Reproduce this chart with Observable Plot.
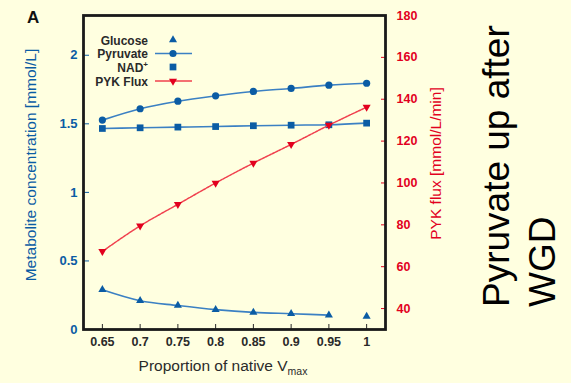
<!DOCTYPE html>
<html><head><meta charset="utf-8">
<script src="https://cdn.jsdelivr.net/npm/d3@7"></script>
<script src="https://cdn.jsdelivr.net/npm/@observablehq/plot@0.6"></script>
<style>
html,body{margin:0;padding:0;background:#ffffe0;}
#chart{width:571px;height:383px;position:relative;}
svg{display:block;}
</style></head><body><div id="chart"></div>
<script>
// ---- data ----
const proportion = [0.65, 0.7, 0.75, 0.8, 0.85, 0.9, 0.95, 1];
const glucose  = [0.29, 0.21, 0.175, 0.145, 0.125, 0.115, 0.105, 0.095];
const pyruvate = [1.527, 1.61, 1.665, 1.704, 1.736, 1.758, 1.782, 1.796];
const nad      = [1.466, 1.471, 1.476, 1.48, 1.486, 1.49, 1.493, 1.505];
const pykFlux  = [67.3, 79.5, 89.8, 100, 109.5, 118.4, 127.6, 136.2];
const xTicks = [0.65, 0.7, 0.75, 0.8, 0.85, 0.9, 0.95, 1];
const xTickLabels = ["0.65", "0.7", "0.75", "0.8", "0.85", "0.9", "0.95", "1"];
const leftTicks = [0, 0.5, 1, 1.5, 2];
const leftTickLabels = ["0", "0.5", "1", "1.5", "2"];
const rightTicks = [40, 60, 80, 100, 120, 140, 160, 180];
const seriesNames = ["Glucose", "Pyruvate", "NAD", "PYK Flux"];

const BLUE = "#0b5ca4", BLUE_LINE = "#3b80c3", RED = "#e2001e", RED_LINE = "#f0404e";
const FONT = "Liberation Sans, Arial, sans-serif";

// secondary axis mapping (flux -> left scale units)
const fluxToY = d3.scaleLinear([30, 180], [0, 2.29]);

const rows = proportion.map((p, i) => ({
  p, glucose: glucose[i], pyruvate: pyruvate[i], nad: nad[i], flux: fluxToY(pykFlux[i])
}));

const W = 571, H = 383, ML = 83, MR = 186, MT = 15, MB = 54;

const chart = Plot.plot({
  width: W, height: H,
  marginLeft: ML, marginRight: MR, marginTop: MT, marginBottom: MB,
  style: {background: "transparent", fontFamily: FONT, fontSize: "13px", overflow: "visible"},
  x: {domain: [0.625, 1.025]},
  y: {domain: [0, 2.29]},
  marks: [
    Plot.axisX(xTicks, {tickSize: -5, tickPadding: 13, tickFormat: d => xTickLabels[xTicks.indexOf(d)], color: "#2a2a2a", fontSize: 12.5, fontWeight: "bold", label: null}),
    Plot.axisY(leftTicks, {anchor: "left", tickSize: -6, tickPadding: 12, tickFormat: d => leftTickLabels[leftTicks.indexOf(d)], color: BLUE, fontSize: 13, fontWeight: "bold", label: null}),
    Plot.axisY(rightTicks.map(fluxToY), {anchor: "right", tickSize: -5, tickPadding: 16, tickFormat: d => String(Math.round(fluxToY.invert(d))), color: RED, fontSize: 12.5, fontWeight: "bold", label: null}),
    // Glucose
    Plot.line(rows.slice(0, 7), {x: "p", y: "glucose", stroke: BLUE_LINE, strokeWidth: 1.6, curve: "monotone-x"}),
    Plot.dot(rows, {x: "p", y: "glucose", symbol: "triangle", r: 3, fill: BLUE}),
    // Pyruvate
    Plot.line(rows, {x: "p", y: "pyruvate", stroke: BLUE_LINE, strokeWidth: 1.6, curve: "monotone-x"}),
    Plot.dot(rows, {x: "p", y: "pyruvate", symbol: "circle", r: 3.6, fill: BLUE}),
    // NAD+
    Plot.line(rows, {x: "p", y: "nad", stroke: BLUE_LINE, strokeWidth: 1.6, curve: "monotone-x"}),
    Plot.dot(rows, {x: "p", y: "nad", symbol: "square", r: 3.8, fill: BLUE}),
    // PYK flux
    Plot.line(rows, {x: "p", y: "flux", stroke: RED_LINE, strokeWidth: 1.5, strokeDasharray: "2.5,1.2", curve: "monotone-x"}),
    Plot.dot(rows, {x: "p", y: "flux", symbol: "triangle", rotate: 180, r: 3, fill: RED}),
    Plot.frame({stroke: "#1a1a1a", strokeWidth: 2.8})
  ]
});

document.getElementById("chart").appendChild(chart);
const svg = d3.select(chart);

function addText(x, y, str, opts = {}) {
  const t = svg.append("text")
    .attr("x", 0).attr("y", 0)
    .attr("transform", `translate(${x},${y})` + (opts.rotate ? ` rotate(${opts.rotate})` : ""))
    .attr("text-anchor", opts.anchor || "start")
    .attr("font-family", FONT)
    .attr("font-size", opts.size || 13)
    .attr("font-weight", opts.weight || "normal")
    .attr("fill", opts.fill || "#222")
    .text(str);
  return t;
}

// panel letter
addText(27, 23, "A", {size: 17, weight: "bold", fill: "#111"});

// axis labels
addText(36, 165, "Metabolite concentration [mmol/L]", {rotate: -90, anchor: "middle", size: 15.5, fill: BLUE});
addText(441, 163.5, "PYK flux [mmol/L/min]", {rotate: -90, anchor: "middle", size: 15.5, fill: RED});
const xl = addText(223, 371, "Proportion of native V", {anchor: "middle", size: 15.5, fill: "#2a2a2a"});
xl.append("tspan").attr("font-size", 10.5).attr("dy", 4).text("max");

// big annotation
addText(509, 307, "Pyruvate up after", {rotate: -90, size: 37, fill: "#000"});
addText(555, 307, "WGD", {rotate: -90, size: 37, fill: "#000"});

// legend
const legY = [40, 53.5, 67, 81];
const legTextX = 148, legMarkX = 173;
const sym = [d3.symbolTriangle, d3.symbolCircle, d3.symbolSquare, d3.symbolTriangle];
const symSize = [Math.PI * 3 * 3, Math.PI * 3.6 * 3.6, Math.PI * 3.8 * 3.8, Math.PI * 3 * 3];
const symFill = [BLUE, BLUE, BLUE, RED];
seriesNames.forEach((name, i) => {
  const t = addText(legTextX, legY[i] + 4.5, name, {anchor: "end", size: 12, weight: "bold", fill: "#2a2a2a"});
  if (name === "NAD") t.append("tspan").attr("font-size", 8).attr("dy", -5).text("+");
  if (i === 1) svg.append("line").attr("x1", 155).attr("x2", 192).attr("y1", legY[i]).attr("y2", legY[i]).attr("stroke", BLUE_LINE).attr("stroke-width", 1.6);
  if (i === 3) svg.append("line").attr("x1", 155).attr("x2", 192).attr("y1", legY[i]).attr("y2", legY[i]).attr("stroke", RED_LINE).attr("stroke-width", 1.6);
  svg.append("path")
    .attr("d", d3.symbol(sym[i], symSize[i])())
    .attr("transform", `translate(${legMarkX},${legY[i]})` + (i === 3 ? " rotate(180)" : ""))
    .attr("fill", symFill[i]);
});
</script>
</body></html>
